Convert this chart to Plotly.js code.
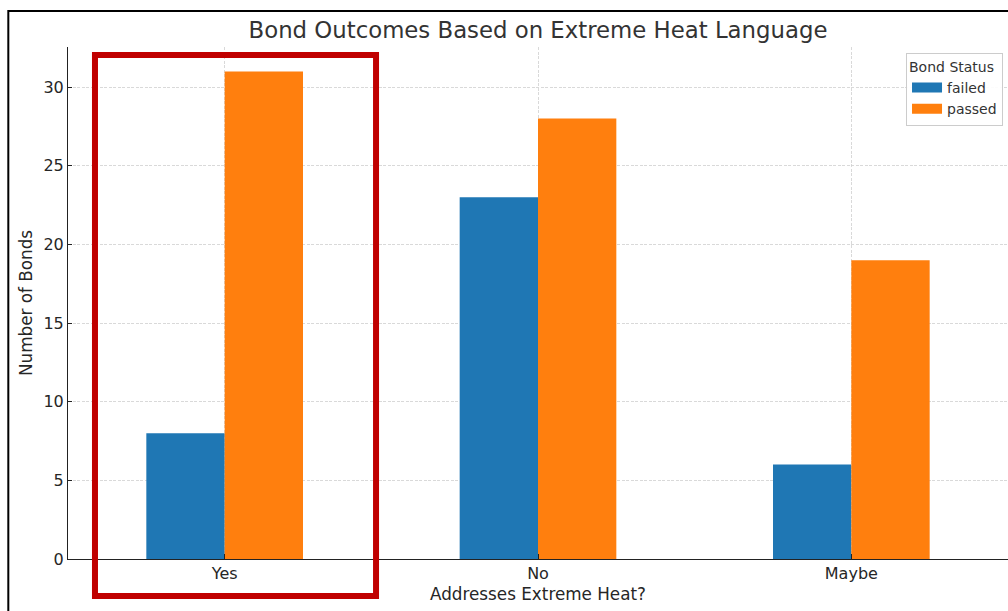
<!DOCTYPE html>
<html>
<head>
<meta charset="utf-8">
<script src="https://cdn.plot.ly/plotly-3.0.1.min.js"></script>
<style>
html, body { margin: 0; padding: 0; background: #fff; overflow: hidden; }
#chart { width: 1008px; height: 611px; }
</style>
</head>
<body>
<div id="chart"></div>
<script>
const categories = ["Yes", "No", "Maybe"];
const failedCounts = [8, 23, 6];
const passedCounts = [31, 28, 19];
const seriesNames = ["failed", "passed"];
const seriesColors = ["#1f77b4", "#ff7f0e"];
const yTicks = [0, 5, 10, 15, 20, 25, 30];

const font = "DejaVu Sans, sans-serif";
const textColor = "#262626";

const traces = [
  {
    type: "bar", name: seriesNames[0], x: categories, y: failedCounts,
    marker: { color: seriesColors[0], line: { width: 0 } }, showlegend: false
  },
  {
    type: "bar", name: seriesNames[1], x: categories, y: passedCounts,
    marker: { color: seriesColors[1], line: { width: 0 } }, showlegend: false
  },
  // legend-only entries with wide swatches
  {
    type: "scatter", mode: "lines", name: seriesNames[0], x: [null], y: [null],
    line: { color: seriesColors[0], width: 10 }, hoverinfo: "skip"
  },
  {
    type: "scatter", mode: "lines", name: seriesNames[1], x: [null], y: [null],
    line: { color: seriesColors[1], width: 10 }, hoverinfo: "skip"
  }
];

const layout = {
  width: 1008, height: 611,
  margin: { l: 68, r: 0, t: 47, b: 52 },
  paper_bgcolor: "#fff", plot_bgcolor: "#fff",
  font: { family: font, color: textColor },
  barmode: "group", bargap: 0.5, bargroupgap: 0,
  title: {
    text: "Bond Outcomes Based on Extreme Heat Language",
    font: { size: 22.8, color: "#333", family: font },
    x: 0.5, xref: "paper", xanchor: "center",
    y: 0.951, yref: "container", yanchor: "middle"
  },
  xaxis: {
    type: "category", range: [-0.5, 2.5],
    showline: true, linecolor: "#222", linewidth: 1,
    showgrid: true, gridcolor: "#d0d0d0", griddash: "3px,1.5px", gridwidth: 0.8,
    ticks: "inside", ticklen: 5, tickcolor: "#222",
    tickfont: { size: 16, color: textColor },
    title: { text: "Addresses Extreme Heat?", font: { size: 16.8, color: textColor }, standoff: 6 },
    zeroline: false
  },
  yaxis: {
    range: [0, 32.55], tickvals: yTicks, ticktext: yTicks.map(String),
    showline: true, linecolor: "#222", linewidth: 1,
    showgrid: true, gridcolor: "#d0d0d0", griddash: "3px,1.5px", gridwidth: 0.8,
    ticks: "inside", ticklen: 4, tickcolor: "#222",
    tickfont: { size: 16, color: textColor },
    title: { text: "Number of Bonds", font: { size: 16.8, color: textColor }, standoff: 6 },
    zeroline: false
  },
  legend: {
    title: { text: "Bond Status", font: { size: 14, color: "#333" } },
    font: { size: 14, color: "#333" },
    x: 0.9947, xanchor: "right", y: 0.989, yanchor: "top",
    bgcolor: "rgba(255,255,255,0.9)", bordercolor: "#cccccc", borderwidth: 1,
    tracegroupgap: 0, itemwidth: 30
  },
  shapes: [
    {
      type: "rect", xref: "paper", yref: "paper",
      x0: -0.0635, x1: 1.2, y0: -0.3, y1: 1.0703,
      line: { color: "#000", width: 2 }, fillcolor: "rgba(0,0,0,0)", layer: "above"
    },
    {
      type: "rect", xref: "paper", yref: "paper",
      x0: 0.0287, x1: 0.3277, y0: -0.0723, y1: 0.9844,
      line: { color: "#c00000", width: 6 }, fillcolor: "rgba(0,0,0,0)", layer: "above"
    }
  ]
};

Plotly.newPlot("chart", traces, layout, { displayModeBar: false, staticPlot: true });
</script>
</body>
</html>
